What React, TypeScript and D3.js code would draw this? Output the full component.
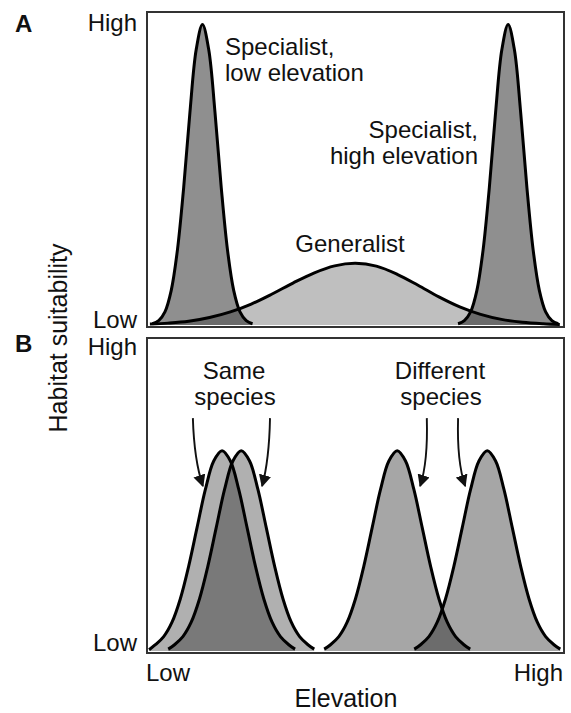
import React, { useEffect, useRef } from 'react';
import * as d3 from 'd3';

type Pt = [number, number];

// Panel A curves (elevation 0-100, suitability 0-100)
const lowSpecialist: Pt[] = [
  [1.3, 0.4], [2.8, 1.4], [4.3, 4.2], [5.8, 11], [7.3, 24], [8.8, 44], [10.3, 68], [11.8, 88],
  [13.3, 96], [14.8, 88], [16.3, 68], [17.8, 44], [19.3, 24], [20.8, 11], [22.3, 4.2], [23.8, 1.4], [25.3, 0.4],
];
const highSpecialist: Pt[] = [
  [74.6, 0.4], [76.1, 1.4], [77.6, 4.2], [79.1, 11], [80.6, 24], [82.1, 44], [83.6, 68], [85.1, 88],
  [86.6, 96], [88.1, 88], [89.6, 68], [91.1, 44], [92.6, 24], [94.1, 11], [95.6, 4.2], [97.1, 1.4], [98.6, 0.4],
];
const generalist: Pt[] = [
  [0.7, 0.3], [5, 0.6], [10, 1.2], [15, 2.4], [20, 4.2], [25, 6.7], [30, 9.9], [35, 13.4], [40, 16.6], [45, 18.9],
  [50, 19.7], [55, 18.8], [60, 16.2], [65, 12.7], [70, 9.0], [75, 5.8], [80, 3.4], [85, 1.8], [90, 0.9], [95, 0.4], [99, 0.15],
];

// Panel B curves
const sameLeft: Pt[] = [
  [0.5, 0.4], [2, 2.0], [4, 4.6], [6, 9.2], [8, 16.7], [10, 27.1], [12, 39.4], [14, 51.6], [16, 60.7],
  [18, 64], [20, 60.7], [22, 51.6], [24, 39.4], [26, 27.1], [28, 16.7], [30, 9.2], [32, 4.6], [34, 2.0], [35.5, 0.6],
];
const sameRight: Pt[] = [
  [5.1, 0.6], [6.6, 2.0], [8.6, 4.6], [10.6, 9.2], [12.6, 16.7], [14.6, 27.1], [16.6, 39.4], [18.6, 51.6], [20.6, 60.7],
  [22.6, 64], [24.6, 60.7], [26.6, 51.6], [28.6, 39.4], [30.6, 27.1], [32.6, 16.7], [34.6, 9.2], [36.6, 4.6], [38.6, 2.0], [40.1, 0.6],
];
const diffLeft: Pt[] = [
  [42.5, 0.6], [44, 2.0], [46, 4.6], [48, 9.2], [50, 16.7], [52, 27.1], [54, 39.4], [56, 51.6], [58, 60.7],
  [60, 64], [62, 60.7], [64, 51.6], [66, 39.4], [68, 27.1], [70, 16.7], [72, 9.2], [74, 4.6], [76, 2.0], [77.5, 0.6],
];
const diffRight: Pt[] = [
  [64.1, 0.6], [65.6, 2.0], [67.6, 4.6], [69.6, 9.2], [71.6, 16.7], [73.6, 27.1], [75.6, 39.4], [77.6, 51.6], [79.6, 60.7],
  [81.6, 64], [83.6, 60.7], [85.6, 51.6], [87.6, 39.4], [89.6, 27.1], [91.6, 16.7], [93.6, 9.2], [95.6, 4.6], [97.6, 2.0], [99.1, 0.6],
];

// arrows in panel B: start, control, tip (data units)
const arrows: [Pt, Pt, Pt][] = [
  [[11.0, 74.4], [11.3, 61.0], [13.4, 52.7]],
  [[29.5, 74.4], [29.3, 61.0], [27.6, 52.7]],
  [[67.1, 74.4], [67.4, 60.4], [65.5, 52.7]],
  [[74.6, 74.4], [74.3, 60.4], [76.3, 52.7]],
];

const FONT = '"Liberation Sans", Arial, Helvetica, sans-serif';

export default function App() {
  const svgRef = useRef<SVGSVGElement>(null);

  useEffect(() => {
    if (!svgRef.current) return;
    const svg = d3.select(svgRef.current);
    svg.selectAll('*').remove();

    const x = d3.scaleLinear().domain([0, 100]).range([147, 564]);
    const yA = d3.scaleLinear().domain([0, 100]).range([325, 12]);
    const yB = d3.scaleLinear().domain([0, 100]).range([651, 338]);

    svg.append('defs').append('marker')
      .attr('id', 'arrowhead')
      .attr('viewBox', '0 0 10 10')
      .attr('refX', 9)
      .attr('refY', 5)
      .attr('markerWidth', 6.5)
      .attr('markerHeight', 6.5)
      .attr('markerUnits', 'strokeWidth')
      .attr('orient', 'auto')
      .append('path')
      .attr('d', 'M0,0 L10,5 L0,10 z')
      .attr('fill', '#111');

    // boxes
    svg.append('rect')
      .attr('x', x(0)).attr('y', 12)
      .attr('width', x(100) - x(0)).attr('height', 327 - 12)
      .attr('fill', 'none').attr('stroke', '#333').attr('stroke-width', 2);
    svg.append('rect')
      .attr('x', x(0)).attr('y', 338)
      .attr('width', x(100) - x(0)).attr('height', 653 - 338)
      .attr('fill', 'none').attr('stroke', '#333').attr('stroke-width', 2);

    const drawPanel = (y: d3.ScaleLinear<number, number>, curves: { data: Pt[]; op: number }[]) => {
      const area = d3.area<Pt>().x(d => x(d[0])).y0(y(0)).y1(d => y(d[1])).curve(d3.curveCatmullRom.alpha(0.5));
      const line = d3.line<Pt>().x(d => x(d[0])).y(d => y(d[1])).curve(d3.curveCatmullRom.alpha(0.5));
      curves.forEach(c => {
        svg.append('path').datum(c.data).attr('d', area).attr('fill', '#000').attr('fill-opacity', c.op);
      });
      curves.forEach(c => {
        svg.append('path').datum(c.data).attr('d', line)
          .attr('fill', 'none').attr('stroke', '#000').attr('stroke-width', 3).attr('stroke-linejoin', 'round');
      });
    };

    drawPanel(yA, [
      { data: generalist, op: 0.25 },
      { data: lowSpecialist, op: 0.44 },
      { data: highSpecialist, op: 0.44 },
    ]);
    drawPanel(yB, [
      { data: sameLeft, op: 0.31 },
      { data: sameRight, op: 0.31 },
      { data: diffLeft, op: 0.35 },
      { data: diffRight, op: 0.35 },
    ]);

    // arrows
    arrows.forEach(([s, c, t]) => {
      svg.append('path')
        .attr('d', `M${x(s[0])},${yB(s[1])} Q${x(c[0])},${yB(c[1])} ${x(t[0])},${yB(t[1])}`)
        .attr('fill', 'none').attr('stroke', '#111').attr('stroke-width', 1.9)
        .attr('marker-end', 'url(#arrowhead)');
    });

    const text = (tx: number, ty: number, s: string, anchor = 'start', size = 24, weight = 'normal') =>
      svg.append('text')
        .attr('x', tx).attr('y', ty)
        .attr('text-anchor', anchor)
        .attr('font-family', FONT)
        .attr('font-size', size)
        .attr('font-weight', weight)
        .attr('fill', '#111')
        .text(s);

    // panel letters
    text(15, 32, 'A', 'start', 24, 'bold');
    text(15, 352, 'B', 'start', 24, 'bold');

    // y ticks
    text(137, yA(100) + 19, 'High', 'end');
    text(137, yA(0) + 3, 'Low', 'end');
    text(137, yB(100) + 17, 'High', 'end');
    text(137, yB(0), 'Low', 'end');

    // x ticks
    text(x(0) - 1, 681, 'Low', 'start');
    text(x(100) - 1, 681, 'High', 'end');

    // axis titles
    text(346, 707, 'Elevation', 'middle', 25);
    svg.append('text')
      .attr('transform', 'translate(67,338) rotate(-90)')
      .attr('text-anchor', 'middle')
      .attr('font-family', FONT)
      .attr('font-size', 25)
      .attr('fill', '#111')
      .text('Habitat suitability');

    // annotations
    text(225, 55, 'Specialist,');
    text(225, 81, 'low elevation');
    text(478, 138, 'Specialist,', 'end');
    text(478, 164, 'high elevation', 'end');
    text(350, 252, 'Generalist', 'middle');
    text(234, 379, 'Same', 'middle');
    text(235, 405, 'species', 'middle');
    text(440, 379, 'Different', 'middle');
    text(441, 405, 'species', 'middle');
  }, []);

  return (
    <div style={{ position: 'absolute', left: 0, top: 0, width: 571, height: 713, background: '#fff' }}>
      <svg ref={svgRef} width={571} height={713} style={{ display: 'block' }} />
    </div>
  );
}
